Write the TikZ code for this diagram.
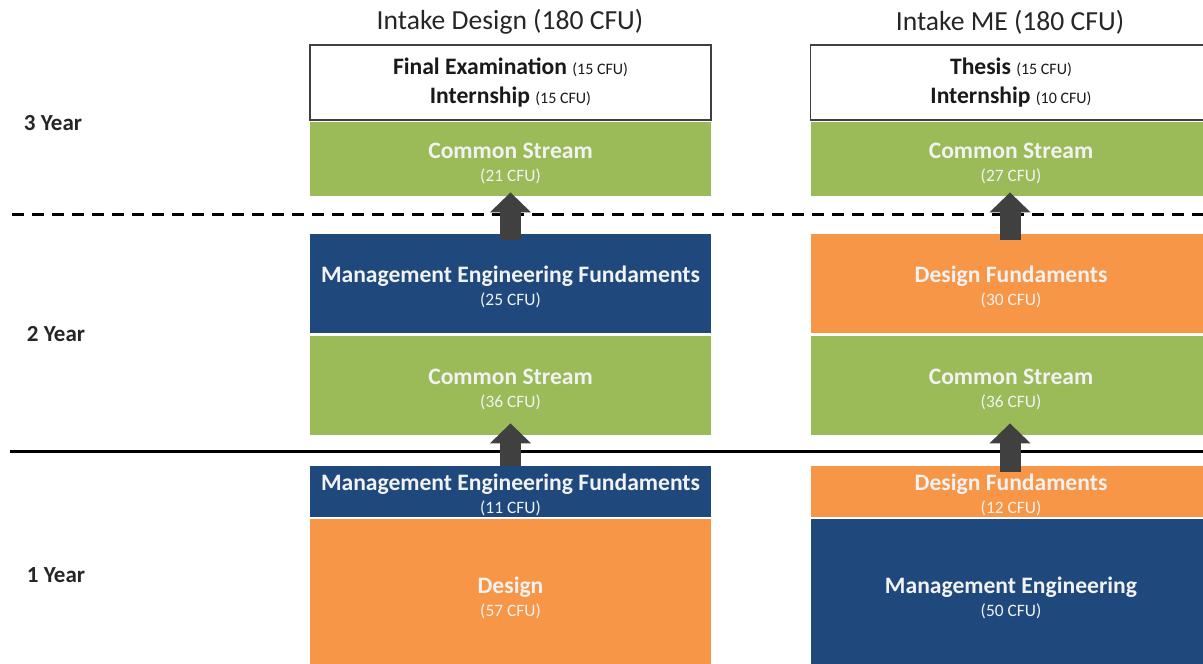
\documentclass[tikz,border=0pt]{standalone}
\usepackage{fontspec}
\setmainfont{Carlito}
\usetikzlibrary{arrows.meta}
\definecolor{csgreen}{HTML}{9BBB59}
\definecolor{meblue}{HTML}{1F497D}
\definecolor{dsorange}{HTML}{F79646}
\definecolor{arrowgray}{HTML}{404040}
\newcommand{\blocktext}[2]{{\fontsize{11.8}{11.5}\bfseries\rule{0pt}{12pt}#1}\\{\fontsize{8.7}{11.5}\selectfont #2}}
\begin{document}
\begin{tikzpicture}[x=0.5pt, y=-0.5pt,
block/.style={minimum width=200.5pt, inner sep=0pt, text=white!95!black, align=center, font=\fontsize{11.8}{11.5}\selectfont},
green/.style={block, fill=csgreen},
blue/.style={block, fill=meblue},
orange/.style={block, fill=dsorange},
final/.style={block, fill=white, draw=arrowgray, line width=0.75pt, text=black!90, font=\fontsize{11.8}{14.5}\selectfont},
yearlabel/.style={font=\fontsize{11.5}{12}\bfseries, text=black!85},
intake/.style={font=\fontsize{13.8}{14}\selectfont, text=black!85},
flow/.style={arrowgray, line width=10.5pt, -{Triangle[width=20pt, length=10pt]}}]
\clip (0,0) rectangle (1203,663);
\node [intake] (t1) at (510,22) {Intake Design (180 CFU)};
\node [intake] (t2) at (1010,22) {Intake ME (180 CFU)};

\node [yearlabel] (y3) at (53,123) {3 Year};
\node [yearlabel] (y2) at (56,334) {2 Year};
\node [yearlabel] (y1) at (56,575) {1 Year};

\draw [line width=1.5pt, dash pattern=on 6pt off 4pt] (12,215) -- (1203,215);
\draw [line width=1.5pt] (10,451) -- (1203,451);

% intake design
\node [final, minimum height=37.5pt] (fa) at (510.5,82.5) {\textbf{Final Examination} {\fontsize{8}{10}\selectfont(15 CFU)}\\\textbf{Internship} {\fontsize{8}{10}\selectfont(15 CFU)}};
\node [green, minimum height=37pt] (csa) at (510.5,159) {\blocktext{Common Stream}{(21 CFU)}};
\node [blue, minimum height=49.5pt] (mefa) at (510.5,283.5) {\blocktext{Management Engineering Fundaments}{(25 CFU)}};
\node [green, minimum height=49.5pt] (csb) at (510.5,385.5) {\blocktext{Common Stream}{(36 CFU)}};
\node [blue, minimum height=25.5pt] (mefb) at (510.5,491.5) {\blocktext{Management Engineering Fundaments}{(11 CFU)}};
\node [orange, minimum height=75.5pt] (des) at (510.5,594.5) {\blocktext{Design}{(57 CFU)}};

% intake ME
\node [final, minimum height=37.5pt] (fb) at (1011,82.5) {\textbf{Thesis} {\fontsize{8}{10}\selectfont(15 CFU)}\\\textbf{Internship} {\fontsize{8}{10}\selectfont(10 CFU)}};
\node [green, minimum height=37pt] (csc) at (1011,159) {\blocktext{Common Stream}{(27 CFU)}};
\node [orange, minimum height=49.5pt] (dfa) at (1011,283.5) {\blocktext{Design Fundaments}{(30 CFU)}};
\node [green, minimum height=49.5pt] (csd) at (1011,385.5) {\blocktext{Common Stream}{(36 CFU)}};
\node [orange, minimum height=25.5pt] (dfb) at (1011,491.5) {\blocktext{Design Fundaments}{(12 CFU)}};
\node [blue, minimum height=75.5pt] (me) at (1011,594.5) {\blocktext{Management Engineering}{(50 CFU)}};

\draw [flow] ([yshift=-3pt]mefa.north) -- ([yshift=2pt]csa.south);
\draw [flow] (mefb.north) -- ([yshift=6pt]csb.south);
\draw [flow] ([xshift=-0.5pt, yshift=-3pt]dfa.north) -- ([xshift=-0.5pt, yshift=2pt]csc.south);
\draw [flow] ([xshift=-0.5pt, yshift=-3pt]dfb.north) -- ([xshift=-0.5pt, yshift=6pt]csd.south);
\end{tikzpicture}
\end{document}
